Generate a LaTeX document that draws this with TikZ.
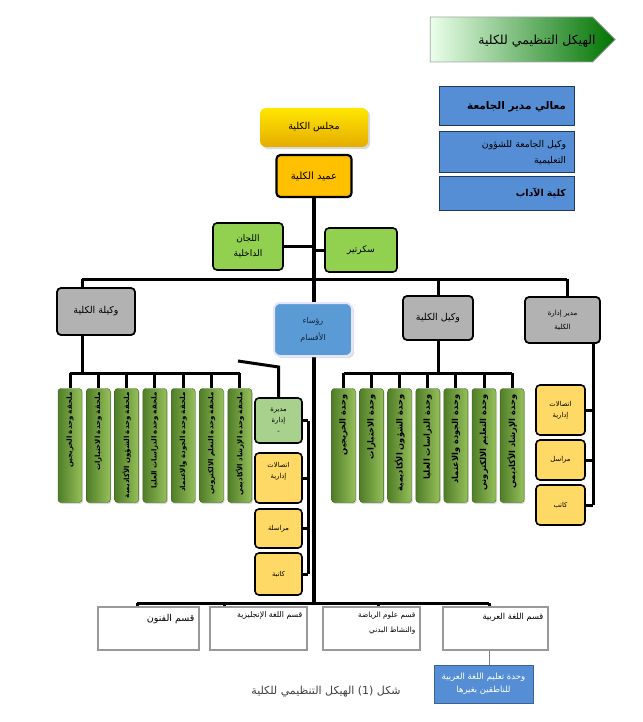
\documentclass[tikz,border=0pt]{standalone}
\usepackage{fontspec}
\usepackage{tikz}
\usepackage{xcolor}
\usetikzlibrary{shadows,shapes.symbols,backgrounds}
\TeXXeTstate=1
\newfontfamily\arabicfont[Script=Arabic]{DejaVu Sans}
\newcommand{\AR}[1]{\beginR#1\endR}
\newcommand{\arsize}[2]{\arabicfont\fontsize{#1}{#2}\selectfont}

\definecolor{boxblue}{RGB}{85,142,213}
\definecolor{headblue}{RGB}{91,155,213}
\definecolor{navy}{RGB}{31,56,100}
\definecolor{gold}{RGB}{255,192,0}
\definecolor{lightgold}{RGB}{255,217,102}
\definecolor{leaf}{RGB}{146,208,80}
\definecolor{paleleaf}{RGB}{169,209,142}
\definecolor{darkleaf}{RGB}{80,125,40}
\definecolor{brightleaf}{RGB}{150,192,90}

\tikzset{
	box/.style={rounded corners=4pt, align=center, inner sep=2pt},
	graybox/.style={box, draw=black, line width=1.8pt, fill=gray!60, font=\arsize{9.5}{12}},
	yellowbox/.style={box, draw=black, line width=1.6pt, fill=lightgold, font=\arsize{6.8}{11}},
	leafbox/.style={box, draw=black, line width=1.6pt, fill=leaf, font=\arsize{9}{15}},
	unitbox/.style={rounded corners=3pt, draw=darkleaf!80!black, line width=0.4pt, left color=darkleaf, right color=brightleaf, minimum width=24pt, minimum height=114pt, drop shadow={opacity=0.3,shadow xshift=1pt,shadow yshift=-1.5pt}},
	unittext/.style={rotate=90, anchor=east, inner sep=0pt, font=\arsize{7}{9}\bfseries},
	deptbox/.style={draw=gray!80, line width=1.2pt, fill=white, minimum height=43pt},
	depttext/.style={anchor=north east, align=right, inner sep=5pt, font=\arsize{7.8}{15}},
	bluebox/.style={draw=navy, line width=1pt, fill=boxblue, minimum width=135pt, text width=119pt, align=right, inner xsep=8pt},
	link/.style={line width=3pt},
	trunk/.style={line width=4.5pt}
}

\begin{document}
\begin{tikzpicture}[x=1pt,y=-1pt]
	\useasboundingbox (0,0) rectangle (642,722);
	% title and university boxes
	\node (banner) [signal, signal to=east, draw=gray!70, line width=0.8pt, left color=green!8!white, right color=green!45!black, minimum width=185pt, minimum height=45pt, inner sep=0pt] at (511.5,39.5) {};
	\node (bannerT) [font=\arsize{12.5}{14}] at (537,41) {\AR{الهيكل التنظيمي للكلية}};
	\node (rector) [bluebox, minimum height=39pt, font=\arsize{10.5}{12}\bfseries] at (506.5,106.5) {\AR{معالي مدير الجامعة}};
	\node (vrector) [bluebox, minimum height=41pt, font=\arsize{9.3}{16}] at (506.5,152.5) {\AR{وكيل الجامعة للشؤون}\\\AR{التعليمية}};
	\node (faculty) [bluebox, minimum height=33pt, font=\arsize{9.5}{11}\bfseries] at (506.5,193.5) {\AR{كلية الآداب}};
	% top of the tree
	\node (council) [box, rounded corners=6pt, top color=yellow!60!gold, bottom color=gold!90!black, minimum width=108pt, minimum height=39pt, font=\arsize{9.5}{11}, drop shadow={opacity=0.3}] at (314,127.5) {\AR{مجلس الكلية}};
	\node (dean) [box, draw=black, line width=2.2pt, fill=gold, minimum width=75pt, minimum height=42pt, font=\arsize{10}{12}] at (314,176) {\AR{عميد الكلية}};
	\node (lijan) [leafbox, minimum width=70pt, minimum height=47pt] at (248,246.5) {\AR{اللجان}\\\AR{الداخلية}};
	\node (secr) [leafbox, minimum width=72pt, minimum height=44pt] at (361,250) {\AR{سكرتير}};
	% second level
	\node (wakila) [graybox, minimum width=78pt, minimum height=47pt] at (96,311.5) {\AR{وكيلة الكلية}};
	\node (ruasa) [box, rounded corners=6pt, draw=blue!10, line width=2pt, fill=headblue, minimum width=78pt, minimum height=53pt, font=\arsize{8}{17}, text=navy!60!black, drop shadow={opacity=0.25}] at (313,329.5) {\AR{رؤساء}\\\AR{الأقسام}};
	\node (wakil) [graybox, minimum width=70pt, minimum height=44pt] at (438,318) {\AR{وكيل الكلية}};
	\node (mudir) [graybox, minimum width=75pt, minimum height=46pt, font=\arsize{7}{14}] at (562.5,320) {\AR{مدير إدارة}\\\AR{الكلية}};
	% units
	\foreach \t [count=\i from 0, evaluate=\i as \ux using 70+28.3*\i] in {{ملحقة وحدة الخريجين}, {ملحقة وحدة الاختبارات}, {ملحقة وحدة الشؤون الأكاديمية}, {ملحقة وحدة الدراسات العليا}, {ملحقة وحدة الجودة والاعتماد}, {ملحقة وحدة التعلم الالكتروني}, {ملحقة وحدة الإرشاد الأكاديمي}} {
		\node (lu\i) [unitbox] at (\ux,445.5) {};
		\node (luT\i) [unittext] at ([yshift=-4pt]lu\i.north) {\AR{\t}};
	}
	\foreach \t [count=\i from 0, evaluate=\i as \ux using 343.5+28.1*\i] in {{وحدة الخريجين}, {وحدة الاختبارات}, {وحدة الشؤون الأكاديمية}, {وحدة الدراسات العليا}, {وحدة الجودة والاعتماد}, {وحدة التعليم الالكتروني}, {وحدة الإرشاد الأكاديمي}} {
		\node (ru\i) [unitbox] at (\ux,445.5) {};
		\node (ruT\i) [unittext, font=\arsize{8.3}{10}\bfseries] at ([yshift=-6pt]ru\i.north) {\AR{\t}};
	}
	% administration columns
	\node (mdira) [box, draw=black, line width=1.6pt, fill=paleleaf, minimum width=47pt, minimum height=45pt, font=\arsize{6.8}{11}] at (278.5,420.5) {\AR{مديرة}\\\AR{إدارة}\\-};
	\node (itt1) [yellowbox, minimum width=47pt, minimum height=50pt] at (278.5,478) {\AR{اتصالات}\\\AR{إدارية}\\[4pt]};
	\node (murasala) [yellowbox, minimum width=47pt, minimum height=39pt] at (278.5,528.5) {\AR{مراسلة}};
	\node (katiba) [yellowbox, minimum width=47pt, minimum height=42pt] at (278.5,574) {\AR{كاتبة}};
	\node (itt2) [yellowbox, minimum width=49pt, minimum height=50pt] at (560.5,410) {\AR{اتصالات}\\\AR{إدارية}};
	\node (murasil) [yellowbox, minimum width=49pt, minimum height=40pt] at (560.5,460) {\AR{مراسل}};
	\node (katib) [yellowbox, minimum width=49pt, minimum height=40pt] at (560.5,505) {\AR{كاتب}};
	% departments
	\node (funun) [deptbox, minimum width=101pt] at (148.5,628.5) {};
	\node (engl) [deptbox, minimum width=97pt] at (258.5,628.5) {};
	\node (sport) [deptbox, minimum width=97pt] at (371.5,628.5) {};
	\node (arab) [deptbox, minimum width=105pt] at (495.5,628.5) {};
	\node (fununT) [depttext, font=\arsize{9.5}{12}, inner ysep=8pt] at (funun.north east) {\AR{قسم الفنون}};
	\node (englT) [depttext] at (engl.north east) {\AR{قسم اللغة الإنجليزية}};
	\node (sportT) [depttext, font=\arsize{7.3}{15}] at (sport.north east) {\AR{قسم علوم الرياضة}\\\AR{والنشاط البدني}};
	\node (arabT) [depttext, font=\arsize{8.3}{10}, inner ysep=7pt] at (arab.north east) {\AR{قسم اللغة العربية}};
	\node (tunit) [box, rounded corners=0pt, draw=boxblue!70!black, line width=0.5pt, fill=boxblue, minimum width=99pt, minimum height=38pt, inner sep=1pt, text=white, font=\arsize{8.5}{13}] at (483.5,684) {\AR{وحدة تعليم اللغة العربية}\\\AR{للناطقين بغيرها}};
	\node (caption) [font=\arsize{11}{13}, text=black!75] at (326,692) {\AR{شكل (1) الهيكل التنظيمي للكلية}};
	% connectors
	\coordinate (trunkB) at (314,603);
	\coordinate (busTL) at (82,279);
	\coordinate (busTR) at (567,279);
	\coordinate (lbus) at (82,373);
	\coordinate (rbus) at (438,373);
	\coordinate (mcol) at (593,505);
	\coordinate (ccol) at (308,420.5);
	\coordinate (kinkA) at (238,361);
	\coordinate (dF) at (137,603);
	\coordinate (dE) at (224,603);
	\coordinate (dS) at (378,603);
	\coordinate (dA) at (489,603);
	\begin{pgfonlayer}{background}
		\draw[trunk] (dean.south) -- (trunkB);
		\draw[link] (lijan.east) -- (lijan.east -| trunkB);
		\draw[link] (secr.west) -- (secr.west -| trunkB);
		\draw[link] (busTL) -- (busTR);
		\draw[link] (busTL) -- (busTL |- wakila.north);
		\draw[link] (wakil.north |- busTL) -- (wakil.north);
		\draw[link] (busTR) -- (busTR |- mudir.north);
		\draw[link] (busTL |- wakila.south) -- (lbus);
		\draw[link] (lu0.north |- lbus) -- (lu6.north |- lbus);
		\draw[link] (wakil.south) -- (rbus);
		\draw[link] (ru0.north |- rbus) -- (ru6.north |- rbus);
		\foreach \i in {0,...,6} {
			\draw[link] (lu\i.north |- lbus) -- (lu\i.north);
			\draw[link] (ru\i.north |- rbus) -- (ru\i.north);
		}
		\draw[link] (mcol |- mudir.south) -- (mcol);
		\foreach \n in {itt2,murasil,katib}
			\draw[link] (\n.east) -- (\n.east -| mcol);
		\draw[link] (ccol) -- (ccol |- katiba.east);
		\foreach \n in {mdira,itt1,murasala,katiba}
			\draw[link] (\n.east) -- (\n.east -| ccol);
		\draw[link] (kinkA) -- (mdira.north |- 0,367) -- (mdira.north);
		\draw[link] (dF) -- (dA);
		\draw[link] (dF) -- (dF |- funun.north);
		\draw[link] (dE) -- (dE |- engl.north);
		\draw[link] (dS) -- (dS |- sport.north);
		\draw[link] (dA) -- (dA |- arab.north);
		\draw[gray, line width=0.8pt] (dA |- arab.south) -- (dA |- tunit.north);
	\end{pgfonlayer}
\end{tikzpicture}
\end{document}
